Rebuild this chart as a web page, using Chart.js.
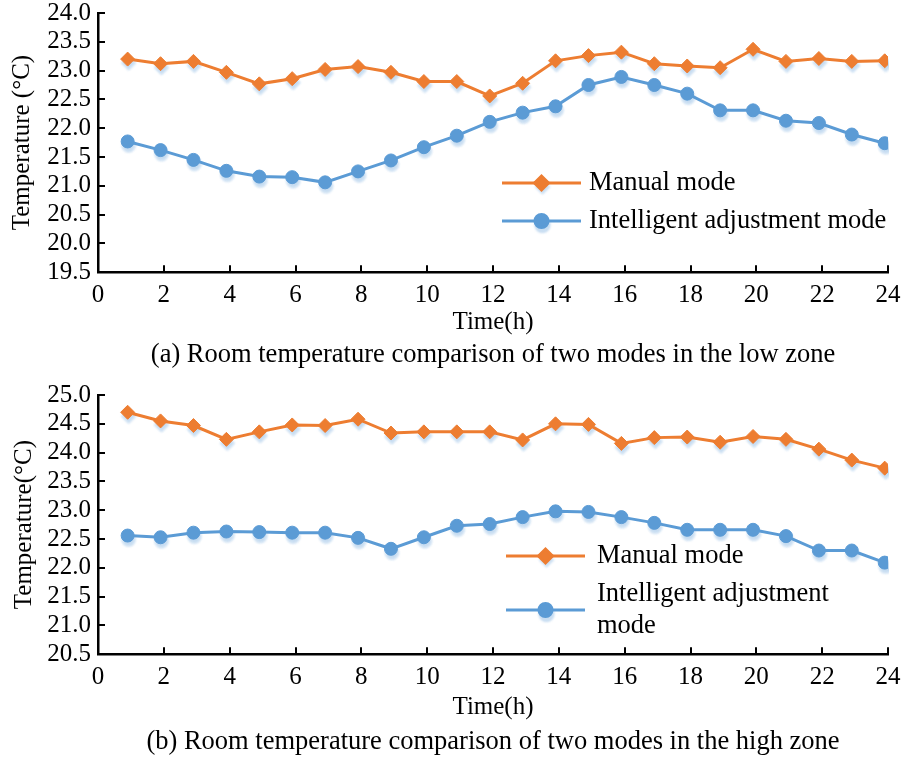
<!DOCTYPE html>
<html>
<head>
<meta charset="utf-8">
<script src="https://cdn.jsdelivr.net/npm/chart.js@4/dist/chart.umd.min.js"></script>
<style>
  html, body { margin: 0; padding: 0; background: #fff; }
  #wrap { position: relative; width: 903px; height: 761px; }
  canvas { position: absolute; left: 0; }
  #low { top: 0; }
  #high { top: 380px; }
</style>
</head>
<body>
<div id="wrap">
  <canvas id="low" width="903" height="380"></canvas>
  <canvas id="high" width="903" height="381"></canvas>
</div>
<script>
// Hour stamps of the hourly readings
const hours = [0.9, 1.9, 2.9, 3.9, 4.9, 5.9, 6.9, 7.9, 8.9, 9.9, 10.9, 11.9,
               12.9, 13.9, 14.9, 15.9, 16.9, 17.9, 18.9, 19.9, 20.9, 21.9, 22.9, 23.9];

// Low zone room temperature (°C)
const lowManual = [23.20, 23.12, 23.16, 22.97, 22.77, 22.86, 23.02, 23.07, 22.97, 22.81, 22.81, 22.56,
                   22.78, 23.17, 23.26, 23.32, 23.12, 23.08, 23.05, 23.37, 23.16, 23.21, 23.16, 23.17];
const lowIntelligent = [21.77, 21.62, 21.45, 21.26, 21.16, 21.15, 21.06, 21.25, 21.44, 21.67, 21.87, 22.11,
                        22.27, 22.38, 22.75, 22.89, 22.75, 22.60, 22.31, 22.31, 22.13, 22.09, 21.89, 21.74];

// High zone room temperature (°C)
const highManual = [24.70, 24.55, 24.47, 24.23, 24.36, 24.48, 24.47, 24.58, 24.34, 24.36, 24.36, 24.36,
                    24.22, 24.50, 24.49, 24.16, 24.26, 24.27, 24.18, 24.28, 24.23, 24.06, 23.87, 23.73];
const highIntelligent = [22.56, 22.53, 22.61, 22.63, 22.62, 22.61, 22.61, 22.52, 22.33, 22.53, 22.73, 22.76,
                         22.88, 22.98, 22.97, 22.88, 22.78, 22.66, 22.66, 22.66, 22.55, 22.30, 22.30, 22.09];

// Axis ranges and labels
const xTickStep = 2;
const xRange = [0, 24];
const lowRange = [19.5, 24.0];
const highRange = [20.5, 25.0];
const yTickStep = 0.5;
const seriesNames = ['Manual mode', 'Intelligent adjustment mode'];
const xTitle = 'Time(h)';
const lowYTitle = 'Temperature (°C)';
const highYTitle = 'Temperature(°C)';
const lowCaption = '(a) Room temperature comparison of two modes in the low zone';
const highCaption = '(b) Room temperature comparison of two modes in the high zone';

const SERIF = '"Liberation Serif", "Times New Roman", serif';
const ORANGE = '#ED7D31';
const BLUE = '#5B9BD5';
const HALO = '#c6dcf1';

Chart.defaults.font.family = SERIF;
Chart.defaults.color = '#000';

const toPoints = vals => hours.map((h, i) => ({ x: h, y: vals[i] }));

// Soft marker shadow, drawn beneath the series
const markerShadow = {
  id: 'markerShadow',
  beforeDatasetDraw(chart, args) {
    const ds = chart.data.datasets[args.index];
    if (!ds.isShadow) return;
    const ctx = chart.ctx;
    ctx.save();
    ctx.translate(1, 4);
    ctx.filter = 'blur(0.8px)';
  },
  afterDatasetDraw(chart, args) {
    const ds = chart.data.datasets[args.index];
    if (!ds.isShadow) return;
    chart.ctx.restore();
  }
};

// Tick marks pointing into the plot area
const innerTicks = {
  id: 'innerTicks',
  beforeDatasetsDraw(chart) {
    const { ctx, chartArea: a, scales: { x, y } } = chart;
    ctx.save();
    ctx.strokeStyle = '#000';
    ctx.lineWidth = 2;
    ctx.beginPath();
    x.ticks.forEach(t => {
      const px = Math.round(x.getPixelForValue(t.value));
      ctx.moveTo(px, a.bottom);
      ctx.lineTo(px, a.bottom - 7);
    });
    y.ticks.forEach(t => {
      const py = Math.round(y.getPixelForValue(t.value));
      ctx.moveTo(a.left, py);
      ctx.lineTo(a.left + 7, py);
    });
    ctx.stroke();
    ctx.restore();
  }
};

function wrapWords(ctx, text, maxWidth) {
  if (!maxWidth) return [text];
  const words = text.split(' ');
  const lines = [];
  let cur = '';
  words.forEach(w => {
    const test = cur ? cur + ' ' + w : w;
    if (cur && ctx.measureText(test).width > maxWidth) {
      lines.push(cur);
      cur = w;
    } else {
      cur = test;
    }
  });
  if (cur) lines.push(cur);
  return lines;
}

// Legend: line sample with marker, then the series name
const lineLegend = {
  id: 'lineLegend',
  afterDraw(chart, args, opts) {
    const ctx = chart.ctx;
    const series = chart.data.datasets.filter(d => !d.isShadow);
    ctx.save();
    ctx.font = opts.fontSize + 'px ' + SERIF;
    series.forEach((ds, i) => {
      const y = opts.rows[i];
      const mx = opts.x + opts.len / 2;
      const style = { pointStyle: ds.pointStyle, radius: ds.pointRadius, rotation: 0, borderWidth: 1 };
      // shadow
      ctx.save();
      ctx.translate(1, 4);
      ctx.filter = 'blur(0.8px)';
      ctx.fillStyle = HALO;
      ctx.strokeStyle = HALO;
      Chart.helpers.drawPoint(ctx, style, mx, y);
      ctx.restore();
      // line
      ctx.strokeStyle = ds.borderColor;
      ctx.lineWidth = ds.borderWidth;
      ctx.beginPath();
      ctx.moveTo(opts.x, y);
      ctx.lineTo(opts.x + opts.len, y);
      ctx.stroke();
      // marker
      ctx.fillStyle = ds.borderColor;
      ctx.strokeStyle = ds.borderColor;
      Chart.helpers.drawPoint(ctx, style, mx, y);
      // text
      const lines = wrapWords(ctx, ds.label, opts.maxWidth);
      const lh = opts.lineGap;
      const y0 = y - (lines.length - 1) * lh / 2;
      ctx.fillStyle = '#000';
      ctx.textAlign = 'left';
      ctx.textBaseline = 'middle';
      lines.forEach((ln, k) => ctx.fillText(ln, opts.textX, y0 + k * lh));
    });
    ctx.restore();
  }
};

function makeChart(id, cfg) {
  const series = [
    { name: seriesNames[0], vals: cfg.manual, color: ORANGE, style: 'rectRot', r: 7 },
    { name: seriesNames[1], vals: cfg.intelligent, color: BLUE, style: 'circle', r: 6.5 }
  ];
  const datasets = [];
  series.forEach(s => {
    datasets.push({
      label: s.name,
      data: toPoints(s.vals),
      borderColor: s.color,
      backgroundColor: s.color,
      borderWidth: 3,
      tension: 0,
      pointStyle: s.style,
      pointRadius: s.r,
      pointBorderWidth: 1,
      pointBackgroundColor: s.color,
      pointBorderColor: s.color,
      order: 0
    });
  });
  series.forEach(s => {
    datasets.push({
      label: s.name + ' shadow',
      isShadow: true,
      data: toPoints(s.vals),
      showLine: false,
      pointStyle: s.style,
      pointRadius: s.r,
      pointBorderWidth: 1,
      pointBackgroundColor: HALO,
      pointBorderColor: HALO,
      order: 5
    });
  });

  return new Chart(document.getElementById(id), {
    type: 'line',
    data: { datasets },
    plugins: [markerShadow, innerTicks, lineLegend],
    options: {
      responsive: false,
      animation: false,
      devicePixelRatio: 1,
      events: [],
      layout: { padding: { left: 0, right: 15, top: cfg.padTop, bottom: 0 } },
      plugins: {
        legend: { display: false },
        tooltip: { enabled: false },
        title: {
          display: true,
          text: cfg.caption,
          position: 'bottom',
          fullSize: false,
          color: '#000',
          font: { size: 26.5, weight: 'normal', family: SERIF, lineHeight: 1.2 },
          padding: { top: 0, bottom: cfg.captionPad }
        },
        lineLegend: cfg.legend
      },
      scales: {
        x: {
          type: 'linear',
          min: xRange[0],
          max: xRange[1],
          grid: { display: true, drawOnChartArea: false, drawTicks: false },
          border: { display: true, color: '#000', width: 2.5 },
          ticks: {
            stepSize: xTickStep,
            autoSkip: false,
            maxRotation: 0,
            padding: 11,
            color: '#000',
            font: { size: 25, family: SERIF, lineHeight: 1 }
          },
          title: {
            display: true,
            text: xTitle,
            color: '#000',
            font: { size: 25, family: SERIF, lineHeight: 1.2 },
            padding: { top: 0, bottom: cfg.xTitlePad }
          },
          afterFit(s) {
            s.height = cfg.xHeight;
            s.paddingLeft = 0;
            s.paddingRight = 0;
          }
        },
        y: {
          min: cfg.range[0],
          max: cfg.range[1],
          grid: { display: true, drawOnChartArea: false, drawTicks: false },
          border: { display: true, color: '#000', width: 2.5 },
          ticks: {
            stepSize: yTickStep,
            padding: 7,
            color: '#000',
            font: { size: 25, family: SERIF, lineHeight: 1 },
            callback: v => Number(v).toFixed(1)
          },
          title: {
            display: true,
            text: cfg.yTitle,
            color: '#000',
            font: { size: 25, family: SERIF, lineHeight: 1.2 },
            padding: { top: cfg.yTitlePad, bottom: 0 }
          },
          afterFit(s) {
            s.width = 98;
            s.paddingTop = 0;
            s.paddingBottom = 0;
          }
        }
      }
    }
  });
}

makeChart('low', {
  manual: lowManual,
  intelligent: lowIntelligent,
  range: lowRange,
  yTitle: lowYTitle,
  caption: lowCaption,
  padTop: 13,
  xHeight: 67,
  xTitlePad: 2,
  captionPad: 9,
  yTitlePad: 7,
  legend: { x: 502, len: 79, rows: [183, 221], textX: 589, fontSize: 26.5, lineGap: 32, maxWidth: 0 }
});

makeChart('high', {
  manual: highManual,
  intelligent: highIntelligent,
  range: highRange,
  yTitle: highYTitle,
  caption: highCaption,
  padTop: 15,
  xHeight: 72,
  xTitlePad: 4,
  captionPad: 3,
  yTitlePad: 9,
  legend: { x: 506, len: 79, rows: [176, 230], textX: 597, fontSize: 26.5, lineGap: 32, maxWidth: 260 }
});
</script>
</body>
</html>
